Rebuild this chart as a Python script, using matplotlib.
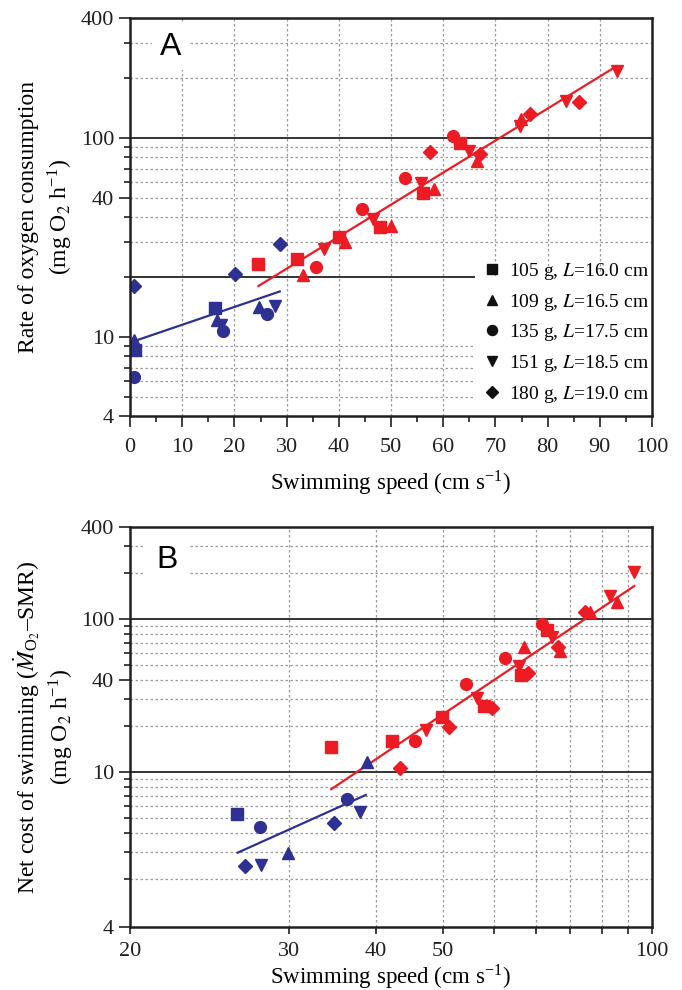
import numpy as np
import matplotlib
matplotlib.use("Agg")
import matplotlib.pyplot as plt
from matplotlib.lines import Line2D
from matplotlib.patches import Rectangle
from matplotlib.ticker import FixedLocator, FixedFormatter, NullFormatter

plt.rcParams['font.family'] = ['Liberation Serif', 'DejaVu Serif']
plt.rcParams['mathtext.fontset'] = 'stix'

# ---------------- data ----------------
fish_labels = ["105 g, $L$=16.0 cm", "109 g, $L$=16.5 cm", "135 g, $L$=17.5 cm",
               "151 g, $L$=18.5 cm", "180 g, $L$=19.0 cm"]
fish_ids = ["105", "109", "135", "151", "180"]

# Panel A, low speeds (blue)
A_low_speed = [1.0, 16.2, 0.8, 16.7, 24.7, 0.8, 17.9, 26.3, 17.5, 27.8, 0.8, 20.2, 28.7]
A_low_rate = [8.6, 13.9, 9.6, 12.1, 14.1, 6.3, 10.7, 13.0, 11.5, 14.3, 18.0, 20.8, 29.4]
A_low_fish = ["105", "105", "109", "109", "109", "135", "135", "135", "151", "151", "180", "180", "180"]

# Panel A, high speeds (red)
A_high_speed = [24.5, 31.9, 40.1, 47.9, 56.2, 63.3,
                33.2, 41.2, 50.0, 58.2, 66.5, 74.9,
                35.6, 44.4, 52.7, 61.9,
                37.2, 46.6, 55.8, 64.9, 74.7, 83.5, 93.3,
                57.4, 67.1, 76.7, 86.0]
A_high_rate = [23.2, 24.6, 31.6, 35.7, 52.6, 93.7,
               20.4, 30.0, 36.0, 55.0, 76.6, 125.0,
               22.5, 43.9, 62.5, 102.0,
               27.6, 39.3, 59.0, 86.0, 114.6, 153.0, 217.0,
               85.0, 82.8, 132.0, 150.5]
A_high_fish = ["105"] * 6 + ["109"] * 6 + ["135"] * 4 + ["151"] * 7 + ["180"] * 4

A_low_fit_speed = [1.0, 28.7]
A_low_fit_rate = [9.55, 16.9]
A_high_fit_speed = [24.6, 92.5]
A_high_fit_rate = [18.0, 223.0]

# Panel B, low speeds (blue)
B_low_speed = [25.25, 29.9, 38.8, 27.2, 36.4, 27.3, 37.9, 25.9, 34.8]
B_low_cost = [5.33, 2.95, 11.6, 4.4, 6.68, 2.45, 5.5, 2.44, 4.63]
B_low_fish = ["105", "109", "109", "135", "135", "151", "151", "180", "180"]

# Panel B, high speeds (red)
B_high_speed = [34.5, 42.2, 49.9, 57.3, 64.8, 70.6,
                65.3, 73.8, 81.3, 88.9,
                45.6, 53.9, 61.5, 69.4,
                47.2, 55.9, 64.3, 71.8, 86.9, 94.3,
                43.4, 51.0, 58.9, 66.2, 73.2, 80.2]
B_high_cost = [14.5, 16.0, 23.0, 27.2, 43.1, 85.0,
               66.0, 62.2, 112.0, 130.0,
               16.0, 37.5, 55.9, 93.0,
               18.9, 30.3, 49.4, 76.8, 141.6, 204.0,
               10.6, 19.8, 26.1, 44.6, 66.0, 111.8]
B_high_fish = ["105"] * 6 + ["109"] * 4 + ["135"] * 4 + ["151"] * 6 + ["180"] * 6

B_low_fit_speed = [25.3, 38.7]
B_low_fit_cost = [2.97, 7.08]
B_high_fit_speed = [34.5, 94.3]
B_high_fit_cost = [7.72, 164.6]

# tick labels (as printed)
A_xticks = [0, 10, 20, 30, 40, 50, 60, 70, 80, 90, 100]
A_yticks = [4, 10, 50, 100, 400]
A_yticklabels = ["4", "10", "40", "100", "400"]
B_xticks = [17.7, 30, 40, 50, 100]
B_xticklabels = ["20", "30", "40", "50", "100"]
B_xminor = [59.3, 68.0, 76.3, 84.7, 92.3]
B_yticks = [0.97, 10, 40, 100, 400]
B_yticklabels = ["4", "10", "40", "100", "400"]

# ---------------- style ----------------
RED = '#ED1C24'
BLUE = '#2E3192'
markers = {"105": "s", "109": "^", "135": "o", "151": "v", "180": "D"}
msizes = {"s": 8.5, "^": 9.0, "o": 8.5, "v": 9.0, "D": 6.8}
GRID = dict(color='#9a9a9a', lw=0.9, ls=(0, (2, 2)), zorder=1)
SOLID = dict(color='#333333', lw=1.4, zorder=1.2)
TICKFS = 16
LABFS = 16.5
YLABFS = 17

W, H = 682, 990
fig = plt.figure(figsize=(W / 100, H / 100), dpi=100)


def px_axes(l, t, r, b):
    return fig.add_axes([l / W, 1 - b / H, (r - l) / W, (b - t) / H])


def style_axes(ax):
    for s in ax.spines.values():
        s.set_linewidth(1.8)
        s.set_color('#231f20')
        s.set_zorder(5)
    ax.tick_params(which='both', direction='out', width=1.2, colors='#231f20',
                   labelsize=TICKFS, top=False, right=False)
    ax.tick_params(which='major', length=8)
    ax.tick_params(which='minor', length=4.5)


def scatter_group(ax, xs, ys, fish, color):
    xs = np.asarray(xs); ys = np.asarray(ys); fish = np.asarray(fish)
    for fid in fish_ids:
        m = fish == fid
        if m.any():
            mk = markers[fid]
            ax.plot(xs[m], ys[m], ls='none', marker=mk, ms=msizes[mk],
                    color=color, mec=color, zorder=3)


# ================= Panel A =================
axA = px_axes(130, 18, 652, 416)
axA.set_xlim(0, 100)
axA.set_yscale('log')
axA.set_ylim(4, 400)
style_axes(axA)
axA.tick_params(axis='x', which='major', pad=8)
axA.xaxis.set_major_locator(FixedLocator(A_xticks))
axA.xaxis.set_minor_locator(FixedLocator([v + 5 for v in A_xticks[:-1]]))
axA.yaxis.set_major_locator(FixedLocator(A_yticks))
axA.yaxis.set_major_formatter(FixedFormatter(A_yticklabels))
A_yminor = [5, 6, 7, 8, 9, 20, 30, 40, 60, 70, 80, 90, 200, 300]
axA.yaxis.set_minor_locator(FixedLocator(A_yminor))
axA.yaxis.set_minor_formatter(NullFormatter())

for v in A_xticks[1:-1]:
    axA.axvline(v, **GRID)
for v in [5, 6, 7, 8, 9, 30, 40, 50, 60, 70, 80, 90, 200, 300]:
    axA.axhline(v, **GRID)
axA.axhline(100, **SOLID)
leg_left = (475 - 130) / 522
axA.axhline(20, xmax=leg_left, **SOLID)
axA.add_patch(Rectangle((leg_left, 0), 1 - leg_left, (416 - 276) / 398,
                        transform=axA.transAxes, fc='white', ec='none', zorder=1.5))

scatter_group(axA, A_low_speed, A_low_rate, A_low_fish, BLUE)
scatter_group(axA, A_high_speed, A_high_rate, A_high_fish, RED)
axA.plot(A_low_fit_speed, A_low_fit_rate, color=BLUE, lw=1.6, zorder=2.5)
axA.plot(A_high_fit_speed, A_high_fit_rate, color=RED, lw=1.6, zorder=2.5)

axA.text(0.0776, 0.926, 'A', transform=axA.transAxes, fontsize=23,
         family='Liberation Sans', ha='center', va='center', zorder=4,
         bbox=dict(boxstyle='square,pad=0.25', fc='white', ec='none'))

handles = [Line2D([], [], ls='none', marker=markers[f], color='#111111',
                  ms=msizes[markers[f]] * 0.85) for f in fish_ids]
axA.legend(handles, fish_labels, loc='upper left', bbox_to_anchor=(0.675, 0.39),
           frameon=False, fontsize=14, labelspacing=0.5, handletextpad=0.35,
           handlelength=1.0, borderaxespad=0, borderpad=0)

axA.set_xlabel('Swimming speed (cm s$^{\\mathregular{-1}}$)', fontsize=LABFS, labelpad=8)
axA.set_ylabel('Rate of oxygen consumption\n(mg O$_2$ h$^{\\mathregular{-1}}$)',
               fontsize=YLABFS, labelpad=4, linespacing=1.3)

# ================= Panel B =================
axB = px_axes(130, 527, 652, 927)
axB.set_xscale('log')
axB.set_yscale('log')
axB.set_xlim(17.7, 100)
axB.set_ylim(0.97, 400)
style_axes(axB)
axB.tick_params(axis='x', which='both', length=5)
axB.tick_params(axis='x', which='major', pad=6)
axB.xaxis.set_major_locator(FixedLocator(B_xticks))
axB.xaxis.set_major_formatter(FixedFormatter(B_xticklabels))
axB.xaxis.set_minor_locator(FixedLocator(B_xminor))
axB.xaxis.set_minor_formatter(NullFormatter())
axB.yaxis.set_major_locator(FixedLocator(B_yticks))
axB.yaxis.set_major_formatter(FixedFormatter(B_yticklabels))
B_yminor = [2, 3, 4, 5, 6, 7, 8, 9, 20, 30, 50, 60, 70, 80, 90, 200, 300]
axB.yaxis.set_minor_locator(FixedLocator(B_yminor))
axB.yaxis.set_minor_formatter(NullFormatter())

for v in [30, 40, 50] + B_xminor:
    axB.axvline(v, **GRID)
for v in [2, 3, 4, 5, 6, 7, 8, 9, 20, 30, 40, 50, 60, 70, 80, 90, 200, 300]:
    axB.axhline(v, **GRID)
axB.axhline(100, **SOLID)
axB.axhline(10, **SOLID)

scatter_group(axB, B_low_speed, B_low_cost, B_low_fish, BLUE)
scatter_group(axB, B_high_speed, B_high_cost, B_high_fish, RED)
axB.plot(B_low_fit_speed, B_low_fit_cost, color=BLUE, lw=1.6, zorder=2.5)
axB.plot(B_high_fit_speed, B_high_fit_cost, color=RED, lw=1.6, zorder=2.5)

axB.text(0.0703, 0.9175, 'B', transform=axB.transAxes, fontsize=23,
         family='Liberation Sans', ha='center', va='center', zorder=4,
         bbox=dict(boxstyle='square,pad=0.35', fc='white', ec='none'))

axB.set_xlabel('Swimming speed (cm s$^{\\mathregular{-1}}$)', fontsize=LABFS, labelpad=1)
axB.set_ylabel('Net cost of swimming ($\\dot{M}_{\\mathregular{O}_2}$\u2013SMR)\n(mg O$_2$ h$^{\\mathregular{-1}}$)',
               fontsize=YLABFS, labelpad=3, linespacing=1.25)

fig.savefig('out.png', dpi=100)
